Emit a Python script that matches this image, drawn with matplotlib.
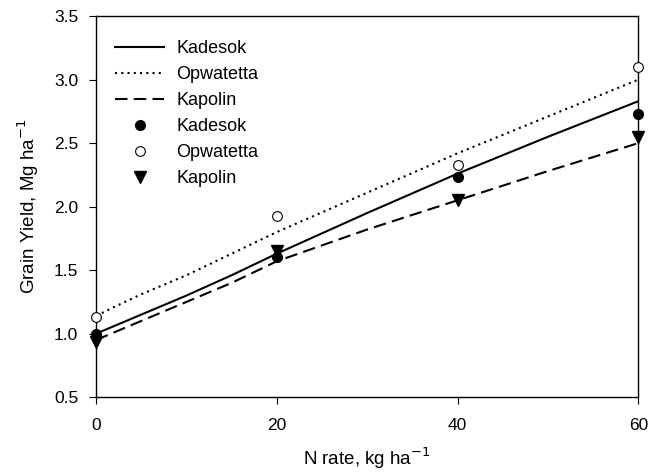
import matplotlib.pyplot as plt

plt.rcParams['font.family'] = ['Liberation Sans', 'DejaVu Sans']

# fitted curves
x_fit = [0, 2, 5, 10, 15, 20, 30, 40, 50, 60]
kadesok_fit = [1.00, 1.06, 1.15, 1.30, 1.46, 1.63, 1.95, 2.26, 2.55, 2.83]
opwatetta_fit = [1.14, 1.21, 1.31, 1.46, 1.63, 1.80, 2.11, 2.42, 2.71, 3.00]
kapolin_fit = [0.95, 1.01, 1.10, 1.25, 1.40, 1.57, 1.82, 2.05, 2.28, 2.50]

# observed means
n_rate = [0, 20, 40, 60]
kadesok_obs = [1.00, 1.60, 2.23, 2.73]
opwatetta_obs = [1.13, 1.93, 2.33, 3.10]
kapolin_obs = [0.93, 1.65, 2.05, 2.55]

fig = plt.figure(figsize=(6.5, 4.75), dpi=100)
ax = fig.add_axes([0.148, 0.164, 0.834, 0.802])

ax.plot(x_fit, kadesok_fit, color='black', lw=1.5, ls='-', label='Kadesok')
ax.plot(x_fit, opwatetta_fit, color='black', lw=1.5, ls=(0, (1, 2)), label='Opwatetta')
ax.plot(x_fit, kapolin_fit, color='black', lw=1.5, ls=(0, (6, 3)), label='Kapolin')

ax.plot(n_rate, kadesok_obs, 'o', color='black', ms=7, clip_on=False, zorder=5, label='Kadesok')
ax.plot(n_rate, opwatetta_obs, 'o', mfc='white', mec='black', mew=0.8, ms=7,
        clip_on=False, zorder=5, label='Opwatetta')
ax.plot(n_rate, kapolin_obs, 'v', color='black', ms=8, clip_on=False, zorder=5, label='Kapolin')

ax.set_xlim(0, 60)
ax.set_ylim(0.5, 3.5)
ax.set_xticks([0, 20, 40, 60])
ax.set_yticks([0.5, 1.0, 1.5, 2.0, 2.5, 3.0, 3.5])
ax.set_yticklabels(['0.5', '1.0', '1.5', '2.0', '2.5', '3.0', '3.5'])
ax.tick_params(direction='out', length=5, labelsize=12.5, top=False, right=False)
ax.tick_params(axis='x', pad=10)
ax.tick_params(axis='y', pad=8)
for s in ax.spines.values():
    s.set_linewidth(1.0)

ax.set_xlabel('N rate, kg ha$^{-1}$', fontsize=13.5, labelpad=9)
ax.set_ylabel('Grain Yield, Mg ha$^{-1}$', fontsize=13.5, labelpad=9)

ax.legend(loc='upper left', frameon=False, fontsize=13, handlelength=2.7,
          handletextpad=0.7, labelspacing=0.5, borderpad=0, borderaxespad=0,
          bbox_to_anchor=(0.035, 0.937))

fig.savefig('out.png', dpi=100)
